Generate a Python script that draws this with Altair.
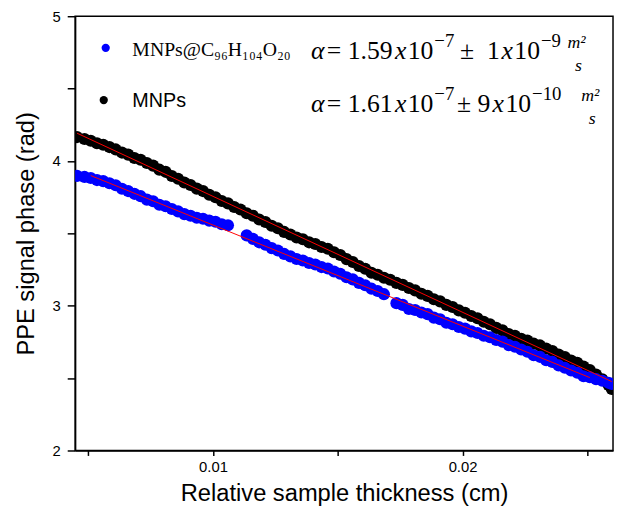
import altair as alt
import pandas as pd

# ---- data ----
x_black = [0.00455, 0.00485, 0.0051, 0.00535, 0.0056, 0.00585, 0.0061, 0.00635, 0.0066, 0.00685,
           0.0071, 0.00735, 0.0076, 0.00785, 0.0081, 0.00835, 0.0086, 0.00885, 0.0091, 0.00935,
           0.0096, 0.00985, 0.0101, 0.01035, 0.0106, 0.01085, 0.0111, 0.01135, 0.0116, 0.01185,
           0.0121, 0.01235, 0.0126, 0.01285, 0.0131, 0.01335, 0.0136, 0.01385, 0.0141, 0.01435,
           0.0146, 0.01485, 0.0151, 0.01535, 0.0156, 0.01585, 0.0161, 0.01635, 0.0166, 0.01685,
           0.0171, 0.01735, 0.0176, 0.01785, 0.0181, 0.01835, 0.0186, 0.01885, 0.0191, 0.01935,
           0.0196, 0.01985, 0.0201, 0.02035, 0.0206, 0.02085, 0.0211, 0.02135, 0.0216, 0.02185,
           0.0221, 0.02235, 0.0226, 0.02285, 0.0231, 0.02335, 0.0236, 0.02385, 0.0241, 0.02435,
           0.0246, 0.02485, 0.0251, 0.02535, 0.0256, 0.02585, 0.02598]
y_black = [4.165, 4.152, 4.140, 4.122, 4.112, 4.096, 4.080, 4.058, 4.044, 4.021,
           4.008, 3.986, 3.968, 3.940, 3.925, 3.896, 3.877, 3.851, 3.834, 3.809,
           3.792, 3.767, 3.750, 3.724, 3.707, 3.682, 3.665, 3.639, 3.622, 3.596,
           3.578, 3.553, 3.535, 3.510, 3.492, 3.471, 3.459, 3.438, 3.426, 3.406,
           3.394, 3.370, 3.350, 3.322, 3.302, 3.275, 3.255, 3.228, 3.214, 3.193,
           3.179, 3.158, 3.144, 3.122, 3.106, 3.083, 3.068, 3.045, 3.030, 3.006,
           2.991, 2.968, 2.952, 2.929, 2.913, 2.889, 2.872, 2.847, 2.830, 2.805,
           2.792, 2.772, 2.759, 2.738, 2.726, 2.704, 2.687, 2.663, 2.646, 2.622,
           2.606, 2.580, 2.556, 2.524, 2.492, 2.452, 2.425]

x_blue = [0.00455, 0.00485, 0.0051, 0.00535, 0.0056, 0.00585, 0.0061, 0.00635, 0.0066, 0.00685,
          0.0071, 0.00735, 0.0076, 0.00785, 0.0081, 0.00835, 0.0086, 0.00885, 0.0091, 0.00935,
          0.0096, 0.00985, 0.0101, 0.01035, 0.0106,
          0.01135, 0.0116, 0.01185,
          0.0121, 0.01235, 0.0126, 0.01285, 0.0131, 0.01335, 0.0136, 0.01385, 0.0141, 0.01435,
          0.0146, 0.01485, 0.0151, 0.01535, 0.0156, 0.01585, 0.0161, 0.01635, 0.0166, 0.01685,
          0.01735, 0.0176, 0.01785, 0.0181, 0.01835, 0.0186, 0.01885, 0.0191, 0.01935,
          0.0196, 0.01985, 0.0201, 0.02035, 0.0206, 0.02085, 0.0211, 0.02135, 0.0216, 0.02185,
          0.0221, 0.02235, 0.0226, 0.02285, 0.0231, 0.02335, 0.0236, 0.02385, 0.0241, 0.02435,
          0.0246, 0.02485, 0.0251, 0.02535, 0.0256, 0.02585, 0.02598]
y_blue = [3.897, 3.890, 3.882, 3.868, 3.861, 3.846, 3.832, 3.808, 3.792, 3.773,
          3.757, 3.733, 3.722, 3.698, 3.687, 3.668, 3.652, 3.633, 3.622, 3.608,
          3.601, 3.588, 3.580, 3.563, 3.556,
          3.486, 3.462, 3.438,
          3.421, 3.398, 3.382, 3.358, 3.341, 3.323, 3.313, 3.295, 3.285, 3.267,
          3.257, 3.236, 3.221, 3.197, 3.182, 3.158, 3.142, 3.118, 3.102, 3.080,
          3.018, 3.006, 2.978, 2.971, 2.953, 2.942, 2.918, 2.907, 2.883,
          2.872, 2.853, 2.842, 2.823, 2.812, 2.793, 2.782, 2.763, 2.752, 2.728,
          2.717, 2.698, 2.682, 2.658, 2.647, 2.623, 2.612, 2.588, 2.572, 2.553,
          2.537, 2.513, 2.506, 2.493, 2.482, 2.468, 2.460]

x_ticks = [0.005, 0.01, 0.015, 0.02, 0.025]
y_ticks = [2, 2.5, 3, 3.5, 4, 4.5, 5]
x_domain = [0.004474, 0.02603]
y_domain = [2, 5]

black_df = pd.DataFrame({"x": x_black, "y": y_black})
blue_df = pd.DataFrame({"x": x_blue, "y": y_blue})
one = pd.DataFrame({"a": [0]})

PLOT_L, PLOT_T = 76, 13

xenc = alt.X("x:Q", scale=alt.Scale(domain=x_domain, nice=False, zero=False),
             axis=alt.Axis(values=x_ticks, title="Relative sample thickness (cm)",
                           labelExpr="(abs(datum.value-0.01)<1e-9 || abs(datum.value-0.02)<1e-9) ? format(datum.value, '.2f') : ''",
                           tickSize=5, labelPadding=4, titlePadding=8))
yenc = alt.Y("y:Q", scale=alt.Scale(domain=y_domain, nice=False, zero=False),
             axis=alt.Axis(values=y_ticks, title="PPE signal phase (rad)",
                           labelExpr="datum.value % 1 == 0 ? format(datum.value, 'd') : ''",
                           tickSize=8, labelPadding=7, titlePadding=14))

pts_black = alt.Chart(black_df).mark_circle(size=150, opacity=1, color="#000000", clip=True).encode(x=xenc, y=yenc)
pts_blue = alt.Chart(blue_df).mark_circle(size=150, opacity=1, color="#0000ff", clip=True).encode(x="x:Q", y="y:Q")

fit_black = alt.Chart(black_df).transform_regression("x", "y", extent=[0.00455, 0.02598]).mark_line(
    color="#ff0000", strokeWidth=1, clip=True).encode(x="x:Q", y="y:Q")
fit_blue = alt.Chart(blue_df).transform_regression("x", "y", extent=[0.0051, 0.0251]).mark_line(
    color="#ff0000", strokeWidth=1, clip=True).encode(x="x:Q", y="y:Q")


def txt(px, py, s, size, font="Liberation Serif", style="normal", align="left"):
    return alt.Chart(one).mark_text(align=align, baseline="alphabetic", fontSize=size, font=font,
                                    fontStyle=style, color="#000000").encode(
        x=alt.value(px - PLOT_L), y=alt.value(py - PLOT_T), text=alt.value(s))


def dot(px, py, col):
    return alt.Chart(one).mark_point(filled=True, size=70, opacity=1, color=col, shape="circle").encode(
        x=alt.value(px - PLOT_L), y=alt.value(py - PLOT_T))


B = 26   # formula font size
E = 19   # exponent font size
legend = [
    dot(107, 45, "#0000ff"),
    dot(105, 98, "#000000"),
    txt(134, 53, "MNPs@C\u2089\u2086H\u2081\u2080\u2084O\u2082\u2080", 20),
    txt(134, 105, "MNPs", 20, font="Liberation Sans"),
    # row 1
    txt(315, 56, "\u03b1", B, style="italic"),
    txt(331, 56, "= 1.59", B),
    txt(400, 56, "x", B, style="italic"),
    txt(413, 56, "10", B),
    txt(440, 44, "\u22127", E),
    txt(466, 56, "\u00b1\u00a0 1", B),
    txt(508, 56, "x", B, style="italic"),
    txt(521, 56, "10", B),
    txt(548, 44, "\u22129", E),
    txt(584, 45, "m\u00b2", 18, style="italic", align="center"),
    txt(586, 68, "s", 18, style="italic", align="center"),
    # row 2
    txt(315, 110, "\u03b1", B, style="italic"),
    txt(331, 110, "= 1.61", B),
    txt(400, 110, "x", B, style="italic"),
    txt(413, 110, "10", B),
    txt(440, 98, "\u22127", E),
    txt(463, 110, "\u00b1 9", B),
    txt(499, 110, "x", B, style="italic"),
    txt(512, 110, "10", B),
    txt(539, 98, "\u221210", E),
    txt(598, 99, "m\u00b2", 18, style="italic", align="center"),
    txt(600, 122, "s", 18, style="italic", align="center"),
]

chart = alt.layer(pts_black, pts_blue, fit_black, fit_blue, *legend).properties(
    width=545, height=440,
    padding={"left": 68, "top": 5, "right": 1, "bottom": 60},
    autosize=alt.AutoSizeParams(type="none"),
    background="#ffffff",
).configure_view(stroke="#000000", strokeWidth=1.5).configure_axis(
    grid=False, domainColor="#000000", domainWidth=1.5, tickColor="#000000", tickWidth=1.5,
    labelFont="Liberation Sans", labelFontSize=15, labelColor="#000000",
    titleFont="Liberation Sans", titleFontSize=24, titleFontWeight="normal", titleColor="#000000",
)

chart.save("out.html", embed_options={"renderer": "svg", "actions": False})
